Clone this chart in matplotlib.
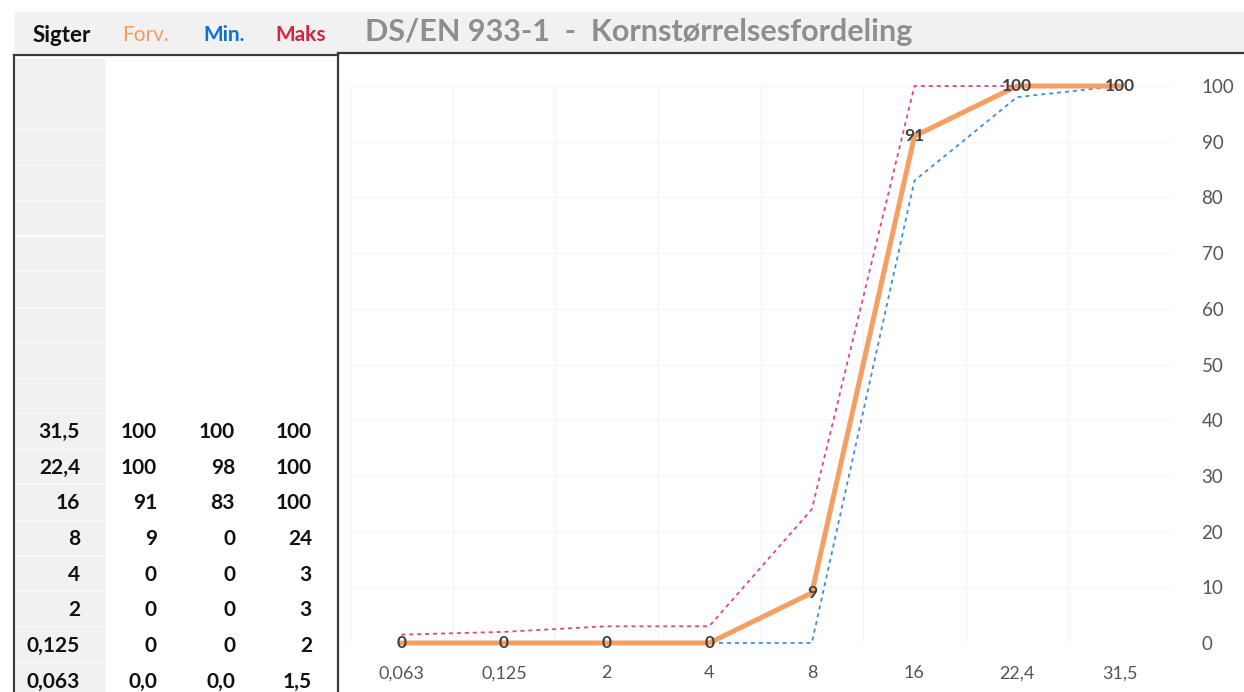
import numpy as np
import matplotlib.pyplot as plt
from matplotlib.patches import Rectangle
from matplotlib.lines import Line2D

plt.rcParams['font.family'] = ['Lato', 'DejaVu Sans']

# sieve sizes (mm) and passing percentages
sigter = ['0,063', '0,125', '2', '4', '8', '16', '22,4', '31,5']
forv = [0, 0, 0, 0, 9, 91, 100, 100]
min_ = [0, 0, 0, 0, 0, 83, 98, 100]
maks = [1.5, 2, 3, 3, 24, 100, 100, 100]
y_ticks = [0, 10, 20, 30, 40, 50, 60, 70, 80, 90, 100]

W, H = 1244, 692
fig = plt.figure(figsize=(W / 100, H / 100), dpi=100)


def fx(x):
    return x / W


def fy(y):
    return 1 - y / H


def fmt(v, dec):
    if dec:
        return f'{v:.1f}'.replace('.', ',')
    return f'{v:g}'.replace('.', ',')


# header band
fig.patches.append(Rectangle((fx(15), fy(52)), fx(1229), 40 / H,
                             transform=fig.transFigure, color='#f1f1f1', zorder=0))
fig.text(fx(33), fy(35), 'Sigter', fontsize=16, fontweight='bold', color='#111111', va='center')
fig.text(fx(122), fy(35), 'Forv.', fontsize=15, color='#f79a5a', va='center')
fig.text(fx(203), fy(35), 'Min.', fontsize=15, fontweight='bold', color='#0a72d2', va='center')
fig.text(fx(275), fy(35), 'Maks', fontsize=15, fontweight='bold', color='#d9223f', va='center')
fig.text(fx(365), fy(32), 'DS/EN 933-1  -  Kornstørrelsesfordeling', fontsize=22,
         fontweight='bold', color='#8e8e8e', va='center')

# grey first column of the table
row_h = 35.5
for i in range(18):
    top = 59 + i * row_h
    fig.patches.append(Rectangle((fx(16), fy(top + row_h - 2)), fx(88), (row_h - 2) / H,
                                 transform=fig.transFigure, color='#f1f1f1', zorder=0))

# table frame and chart frame
lc = '#3a3a3a'
fig.lines.append(Line2D([fx(14), fx(14)], [fy(55), fy(692)], color=lc, lw=1.6, transform=fig.transFigure))
fig.lines.append(Line2D([fx(14), fx(338)], [fy(55), fy(55)], color=lc, lw=1.6, transform=fig.transFigure))
fig.lines.append(Line2D([fx(338), fx(338)], [fy(53), fy(692)], color=lc, lw=1.6, transform=fig.transFigure))
fig.lines.append(Line2D([fx(338), fx(1244)], [fy(53), fy(53)], color=lc, lw=1.6, transform=fig.transFigure))

# table values, top row = largest sieve
for j, i in enumerate(range(len(sigter) - 1, -1, -1)):
    yy = fy(432 + j * 35.7)
    dec = i == 0
    fig.text(fx(80), yy, sigter[i], ha='right', va='center', fontsize=15, fontweight='bold', color='#111111')
    fig.text(fx(157), yy, fmt(forv[i], dec), ha='right', va='center', fontsize=15, fontweight='bold', color='#111111')
    fig.text(fx(235), yy, fmt(min_[i], dec), ha='right', va='center', fontsize=15, fontweight='bold', color='#111111')
    fig.text(fx(312), yy, fmt(maks[i], dec), ha='right', va='center', fontsize=15, fontweight='bold', color='#111111')

# chart
ax = fig.add_axes([fx(350), fy(643), fx(1171 - 350), (643 - 86) / H])
x = np.arange(len(sigter))
ax.plot(x, maks, color='#e2467c', lw=1.3, dashes=(2.2, 2.2), clip_on=False, zorder=3)
ax.plot(x, min_, color='#3b8fe2', lw=1.3, dashes=(2.2, 2.2), clip_on=False, zorder=3)
ax.plot(x, forv, color='#f5a062', lw=3.6, clip_on=False, zorder=4, solid_capstyle='round')
for xi, v in zip(x, forv):
    ax.text(xi, v, f'{v:g}', ha='center', va='center', fontsize=12.5, fontweight='bold',
            color='#3f3f3f', zorder=5)

ax.set_xlim(-0.5, len(sigter) - 0.5)
ax.set_ylim(0, 100)
ax.set_xticks(x)
ax.set_xticklabels(sigter)
ax.set_yticks(y_ticks)
ax.yaxis.tick_right()
ax.tick_params(axis='both', length=0, labelsize=13, labelcolor='#555555')
ax.tick_params(axis='y', labelsize=13.5)
ax.tick_params(axis='x', pad=16)
ax.tick_params(axis='y', pad=22)
ax.set_xticks(np.arange(-0.5, len(sigter)), minor=True)
ax.grid(True, which='minor', axis='x', color='#f4f4f4', lw=1)
ax.grid(True, which='major', axis='y', color='#f6f6f6', lw=1)
ax.tick_params(axis='x', which='minor', length=0)
for s in ax.spines.values():
    s.set_visible(False)
ax.set_facecolor('none')

fig.savefig('out.png', dpi=100)
